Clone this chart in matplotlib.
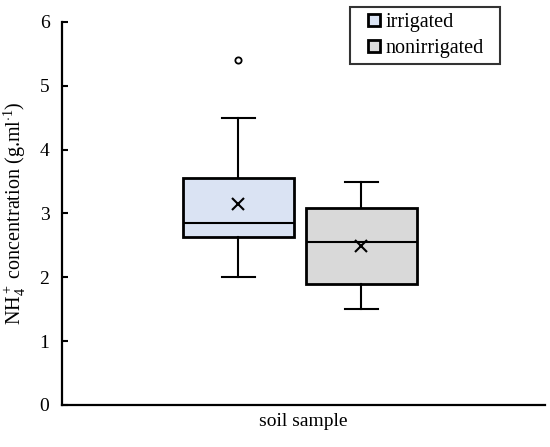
import matplotlib
matplotlib.use('Agg')
import matplotlib.pyplot as plt
from matplotlib.patches import Patch, Rectangle
from matplotlib.legend_handler import HandlerPatch

# data
groups = ['irrigated', 'nonirrigated']
positions = [0.365, 0.62]
q1 = [2.63, 1.90]
med = [2.85, 2.56]
q3 = [3.56, 3.08]
mean = [3.15, 2.49]
whislo = [2.0, 1.5]
whishi = [4.5, 3.5]
fliers = [[5.4], []]
colors = ['#dae3f3', '#d9d9d9']

plt.rcParams['font.family'] = ['Liberation Serif', 'DejaVu Serif']
plt.rcParams['mathtext.fontset'] = 'custom'
plt.rcParams['mathtext.rm'] = 'Liberation Serif'
plt.rcParams['mathtext.it'] = 'Liberation Serif:italic'

fig = plt.figure(figsize=(5.5, 4.47), dpi=100)
ax = fig.add_axes([0.1127, 0.094, 0.8783, 0.857])

stats = []
for i in range(len(groups)):
    stats.append(dict(med=med[i], q1=q1[i], q3=q3[i], mean=mean[i],
                      whislo=whislo[i], whishi=whishi[i], fliers=fliers[i]))

bp = ax.bxp(stats, positions=positions, widths=0.231, patch_artist=True,
            showmeans=True, capwidths=0.068,
            boxprops=dict(edgecolor='black', linewidth=2),
            medianprops=dict(color='black', linewidth=1.5),
            whiskerprops=dict(color='black', linewidth=1.5),
            capprops=dict(color='black', linewidth=1.5),
            meanprops=dict(marker='x', markeredgecolor='black', markersize=8,
                           markeredgewidth=1.5),
            flierprops=dict(marker='o', markerfacecolor='white',
                            markeredgecolor='black', markersize=4.5,
                            markeredgewidth=1.3))
for patch, c in zip(bp['boxes'], colors):
    patch.set_facecolor(c)

ax.set_xlim(0, 1)
ax.set_ylim(0, 6)
ax.set_yticks(range(7))
ax.set_xticks([])
ax.tick_params(axis='y', direction='in', length=4, width=1.5, labelsize=14, pad=9)
for s in ['top', 'right']:
    ax.spines[s].set_visible(False)
for s in ['left', 'bottom']:
    ax.spines[s].set_linewidth(1.6)

ax.set_xlabel('soil sample', fontsize=14, labelpad=6)
ax.set_ylabel(r'NH$_4^+$ concentration (g.ml$^{\cdot 1}$)', fontsize=14.5, labelpad=8)


# small square sitting at the right end of the handle area
def small_square(legend, orig_handle, xdescent, ydescent, width, height, fontsize):
    s = 9
    return Rectangle((width - s - xdescent, (height - s) / 2 - ydescent), s, s)


handles = [Patch(facecolor=c, edgecolor='black', linewidth=2) for c in colors]
leg = fig.legend(handles, groups, loc='upper left',
                 bbox_to_anchor=(350 / 550, (447 - 63) / 447, 150 / 550, 56 / 447),
                 mode='expand', fontsize=14.5, frameon=True, fancybox=False,
                 edgecolor='black', handlelength=1.2, handleheight=0.6,
                 handletextpad=0.25, borderpad=0.3, labelspacing=0.35,
                 borderaxespad=0,
                 handler_map={Patch: HandlerPatch(patch_func=small_square)})
leg.get_frame().set_linewidth(1.5)

fig.savefig('out.png', dpi=100)
